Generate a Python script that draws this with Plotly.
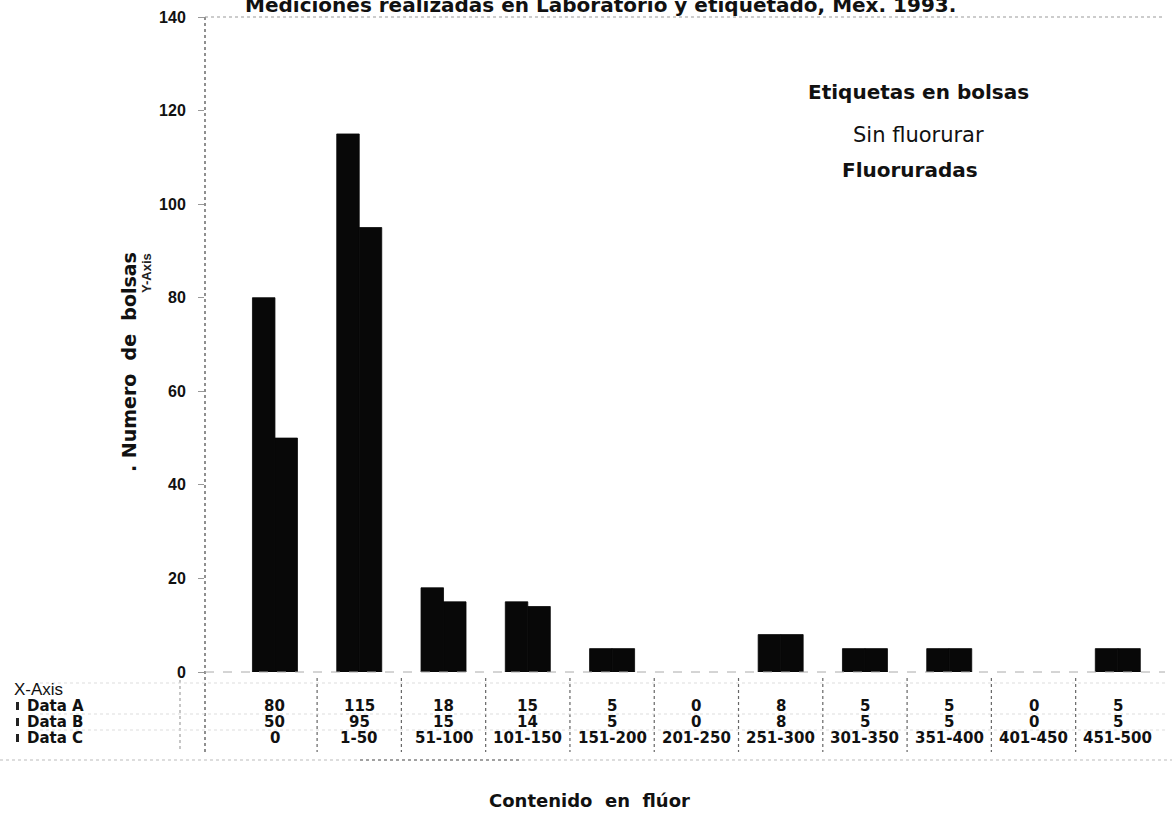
import plotly.graph_objects as go

# Rangos de contenido en flúor (ppm) y número de bolsas por rango
rangos = ["0", "1-50", "51-100", "101-150", "151-200", "201-250",
          "251-300", "301-350", "351-400", "401-450", "451-500"]
data_a = [80, 115, 18, 15, 5, 0, 8, 5, 5, 0, 5]
data_b = [50, 95, 15, 14, 5, 0, 8, 5, 5, 0, 5]
y_ticks = [0, 20, 40, 60, 80, 100, 120, 140]

titulo = "Mediciones realizadas en Laboratorio y etiquetado, Méx. 1993."
leyenda = ["Etiquetas en bolsas", "Sin fluorurar", "Fluoruradas"]

W, H = 1172, 819
ML, MR, MT, MB = 205, 7, 17, 147
PW, PH = W - ML - MR, H - MT - MB
XR = [-0.83, 10.56]


def py(pix):
    """vertical page pixel -> paper fraction"""
    return (H - MB - pix) / PH


def px(pix):
    """horizontal page pixel -> paper fraction"""
    return (pix - ML) / PW


BOLD = "Liberation Sans"
WIDE = "DejaVu Sans"
NB = "\u00a0"

fig = go.Figure()
for serie, nombre in ((data_a, "Data A"), (data_b, "Data B")):
    # contorno del mismo color para unir las dos barras; sin contorno en ceros
    fig.add_trace(go.Bar(x=rangos, y=serie, name=nombre,
                         marker=dict(color="#080808",
                                     line=dict(color="#080808",
                                               width=[0.8 if v else 0 for v in serie]))))

shapes = []
dot_light = dict(color="#bbb", width=1, dash="dot")

# eje vertical punteado, se prolonga por la tabla
shapes.append(dict(type="line", xref="paper", yref="paper",
                   x0=0, x1=0, y0=1, y1=py(752),
                   line=dict(color="#555", width=1.3, dash="dot")))
# borde superior y línea base
shapes.append(dict(type="line", xref="paper", yref="paper",
                   x0=0, x1=1, y0=1, y1=1, line=dict(color="#999", width=1.2, dash="dot")))
shapes.append(dict(type="line", xref="paper", yref="paper",
                   x0=0, x1=1, y0=0, y1=0, line=dict(color="#aaa", width=1, dash="dash")))
# separadores de la tabla
for k in range(len(rangos) - 1):
    shapes.append(dict(type="line", xref="x", yref="paper",
                       x0=k + 0.5, x1=k + 0.5, y0=py(678), y1=py(752),
                       line=dict(color="#666", width=1.2, dash="dot")))
shapes.append(dict(type="line", xref="paper", yref="paper",
                   x0=px(180), x1=px(180), y0=py(680), y1=py(752),
                   line=dict(color="#999", width=1.1, dash="dot")))
# líneas tenues entre filas
for yy in (683, 714, 730):
    shapes.append(dict(type="line", xref="paper", yref="paper",
                       x0=px(40), x1=1, y0=py(yy), y1=py(yy),
                       line=dict(color="#ddd", width=1, dash="dot")))
# línea inferior
shapes.append(dict(type="line", xref="paper", yref="paper",
                   x0=px(0), x1=px(W), y0=py(760), y1=py(760), line=dot_light))
shapes.append(dict(type="line", xref="paper", yref="paper",
                   x0=px(360), x1=px(520), y0=py(760), y1=py(760),
                   line=dict(color="#666", width=1.2, dash="dot")))
# marcas de la leyenda de la tabla
for yy in (706, 722, 738):
    shapes.append(dict(type="rect", xref="paper", yref="paper",
                       x0=px(16), x1=px(19), y0=py(yy + 4), y1=py(yy - 4),
                       fillcolor="#222", line=dict(width=0)))

ann = []


def texto(t, x, y, size, family=WIDE, anchor="center", angle=0, xref="paper", color="#111"):
    ann.append(dict(text=t, xref=xref, yref="paper", x=x, y=y,
                    xanchor=anchor, yanchor="middle", textangle=angle,
                    showarrow=False, font=dict(family=family, size=size, color=color)))


# título (cortado en el borde superior)
texto("<b>" + titulo + "</b>", px(600), py(5), 20)
# leyenda
texto("<b>" + leyenda[0] + "</b>", px(918), py(92), 20)
texto(leyenda[1], px(918), py(135), 21)
texto("<b>" + leyenda[2] + "</b>", px(840), py(170), 20, anchor="left")
# títulos de ejes
texto("<b>." + NB + "Numero" + NB * 2 + "de" + NB * 2 + "bolsas</b>",
      px(129), py(362), 19, angle=-90)
texto("<b>Y-Axis</b>", px(146), py(273), 13, family=BOLD, angle=-90, color="#222")
texto("<b>Contenido" + NB + " en" + NB + " flúor</b>", px(589), py(800), 18)
# tabla de datos
texto("X-Axis", px(12), py(690), 17, family=BOLD, anchor="left")
filas = [("Data A", data_a, 706), ("Data B", data_b, 722), ("Data C", rangos, 738)]
for nombre, vals, yy in filas:
    texto("<b>" + nombre + "</b>", px(25), py(yy), 15, anchor="left")
    for cat, v in zip(rangos, vals):
        texto("<b>%s</b>" % v, cat, py(yy), 15, xref="x")

fig.update_layout(
    width=W, height=H,
    margin=dict(l=ML, r=MR, t=MT, b=MB, pad=0),
    paper_bgcolor="white", plot_bgcolor="white",
    barmode="group", bargap=0.466, bargroupgap=0,
    showlegend=False,
    shapes=shapes, annotations=ann,
    xaxis=dict(type="category", categoryorder="array", categoryarray=rangos,
               range=XR, showticklabels=False, showgrid=False,
               zeroline=False, showline=False, ticks=""),
    yaxis=dict(range=[0, 140], tickvals=y_ticks, showgrid=False, zeroline=False,
               showline=False, ticks="outside", ticklen=6, tickcolor="#999",
               ticklabelstandoff=9,
               tickfont=dict(family=BOLD, size=16, color="#111", weight="bold")),
)

fig.write_html("out.html")
